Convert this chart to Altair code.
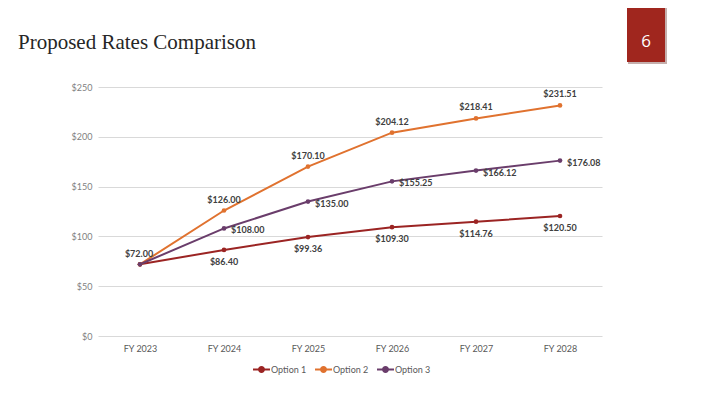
import altair as alt
import pandas as pd

years = ["FY 2023", "FY 2024", "FY 2025", "FY 2026", "FY 2027", "FY 2028"]
option1 = [72.00, 86.40, 99.36, 109.30, 114.76, 120.50]
option2 = [72.00, 126.00, 170.10, 204.12, 218.41, 231.51]
option3 = [72.00, 108.00, 135.00, 155.25, 166.12, 176.08]
series_names = ["Option 1", "Option 2", "Option 3"]
series_colors = ["#9B2423", "#E0722F", "#6A3D6B"]
title_text = "Proposed Rates Comparison"
page_number = "6"

rows = []
for name, vals in zip(series_names, [option1, option2, option3]):
    for i, (y, v) in enumerate(zip(years, vals)):
        rows.append({"year": y, "series": name, "value": v, "idx": i})
df = pd.DataFrame(rows)

W, H = 504, 249

x = alt.X("year:N", sort=years, scale=alt.Scale(type="point", padding=0.5),
          axis=alt.Axis(title=None, labelAngle=0, domain=False, ticks=False, grid=False,
                        labelColor="#595959", labelFontSize=9, labelFont="Lato", labelPadding=8))
y = alt.Y("value:Q", scale=alt.Scale(domain=[0, 250], nice=False),
          axis=alt.Axis(title=None, values=[0, 50, 100, 150, 200, 250], format="$d",
                        domain=False, ticks=False, gridColor="#D9D9D9", gridWidth=1,
                        labelColor="#7F7F7F", labelFontSize=9, labelFont="Lato", labelPadding=6))
color = alt.Color("series:N", sort=series_names,
                  scale=alt.Scale(domain=series_names, range=series_colors),
                  legend=alt.Legend(title=None, orient="none", direction="horizontal",
                                    legendX=155, legendY=274,
                                    symbolType="M-1.2,0H1.2M-0.35,0a0.35,0.35 0 1,0 0.7,0a0.35,0.35 0 1,0 -0.7,0",
                                    symbolSize=200, symbolStrokeWidth=2,
                                    labelFont="Lato", labelFontSize=9, labelColor="#595959",
                                    columnPadding=4, labelOffset=1))

base = alt.Chart(df).encode(x=x, y=y)

lines = base.mark_line(strokeWidth=2).encode(color=color)
points = base.mark_point(filled=True, size=22, opacity=1).encode(color=alt.Color("series:N", scale=alt.Scale(domain=series_names, range=series_colors), legend=None))

lab_font = dict(font="Lato", fontSize=9, fontWeight="bold", color="#404040")
txt = alt.Text("value:Q", format="$.2f")

lab1_first = base.mark_text(dy=-10, dx=-1, **lab_font).encode(text=txt).transform_filter(
    "datum.series == 'Option 1' && datum.idx == 0")
lab1 = base.mark_text(dy=12, **lab_font).encode(text=txt).transform_filter(
    "datum.series == 'Option 1' && datum.idx > 0")
lab2 = base.mark_text(dy=-11, **lab_font).encode(text=txt).transform_filter(
    "datum.series == 'Option 2' && datum.idx > 0")
lab3 = base.mark_text(dx=7, dy=2, align="left", **lab_font).encode(text=txt).transform_filter(
    "datum.series == 'Option 3' && datum.idx > 0")

deco = pd.DataFrame({"t": [title_text]})
title = alt.Chart(deco).mark_text(align="left", baseline="alphabetic", font="Liberation Serif",
                                  fontSize=21, color="#262626").encode(
    x=alt.value(-80), y=alt.value(-38), text=alt.value(title_text))
shadow = alt.Chart(deco).mark_rect(color="#5a1a14", opacity=0.35).encode(
    x=alt.value(530), x2=alt.value(569), y=alt.value(-79), y2=alt.value(-23))
box = alt.Chart(deco).mark_rect(color="#A0261E").encode(
    x=alt.value(529), x2=alt.value(567), y=alt.value(-79), y2=alt.value(-25))
num = alt.Chart(deco).mark_text(align="center", baseline="alphabetic", font="Open Sans",
                                fontSize=17, color="white").encode(
    x=alt.value(548), y=alt.value(-40), text=alt.value(page_number))

chart = alt.layer(lines, points, lab1_first, lab1, lab2, lab3, title, shadow, box, num).properties(
    width=W, height=H,
    autosize=alt.AutoSizeParams(type="none"),
    padding={"left": 90, "top": 79, "right": 110, "bottom": 54},
    background="white",
).configure_view(stroke=None)

chart.save("out.html", embed_options={"renderer": "svg", "actions": False})
